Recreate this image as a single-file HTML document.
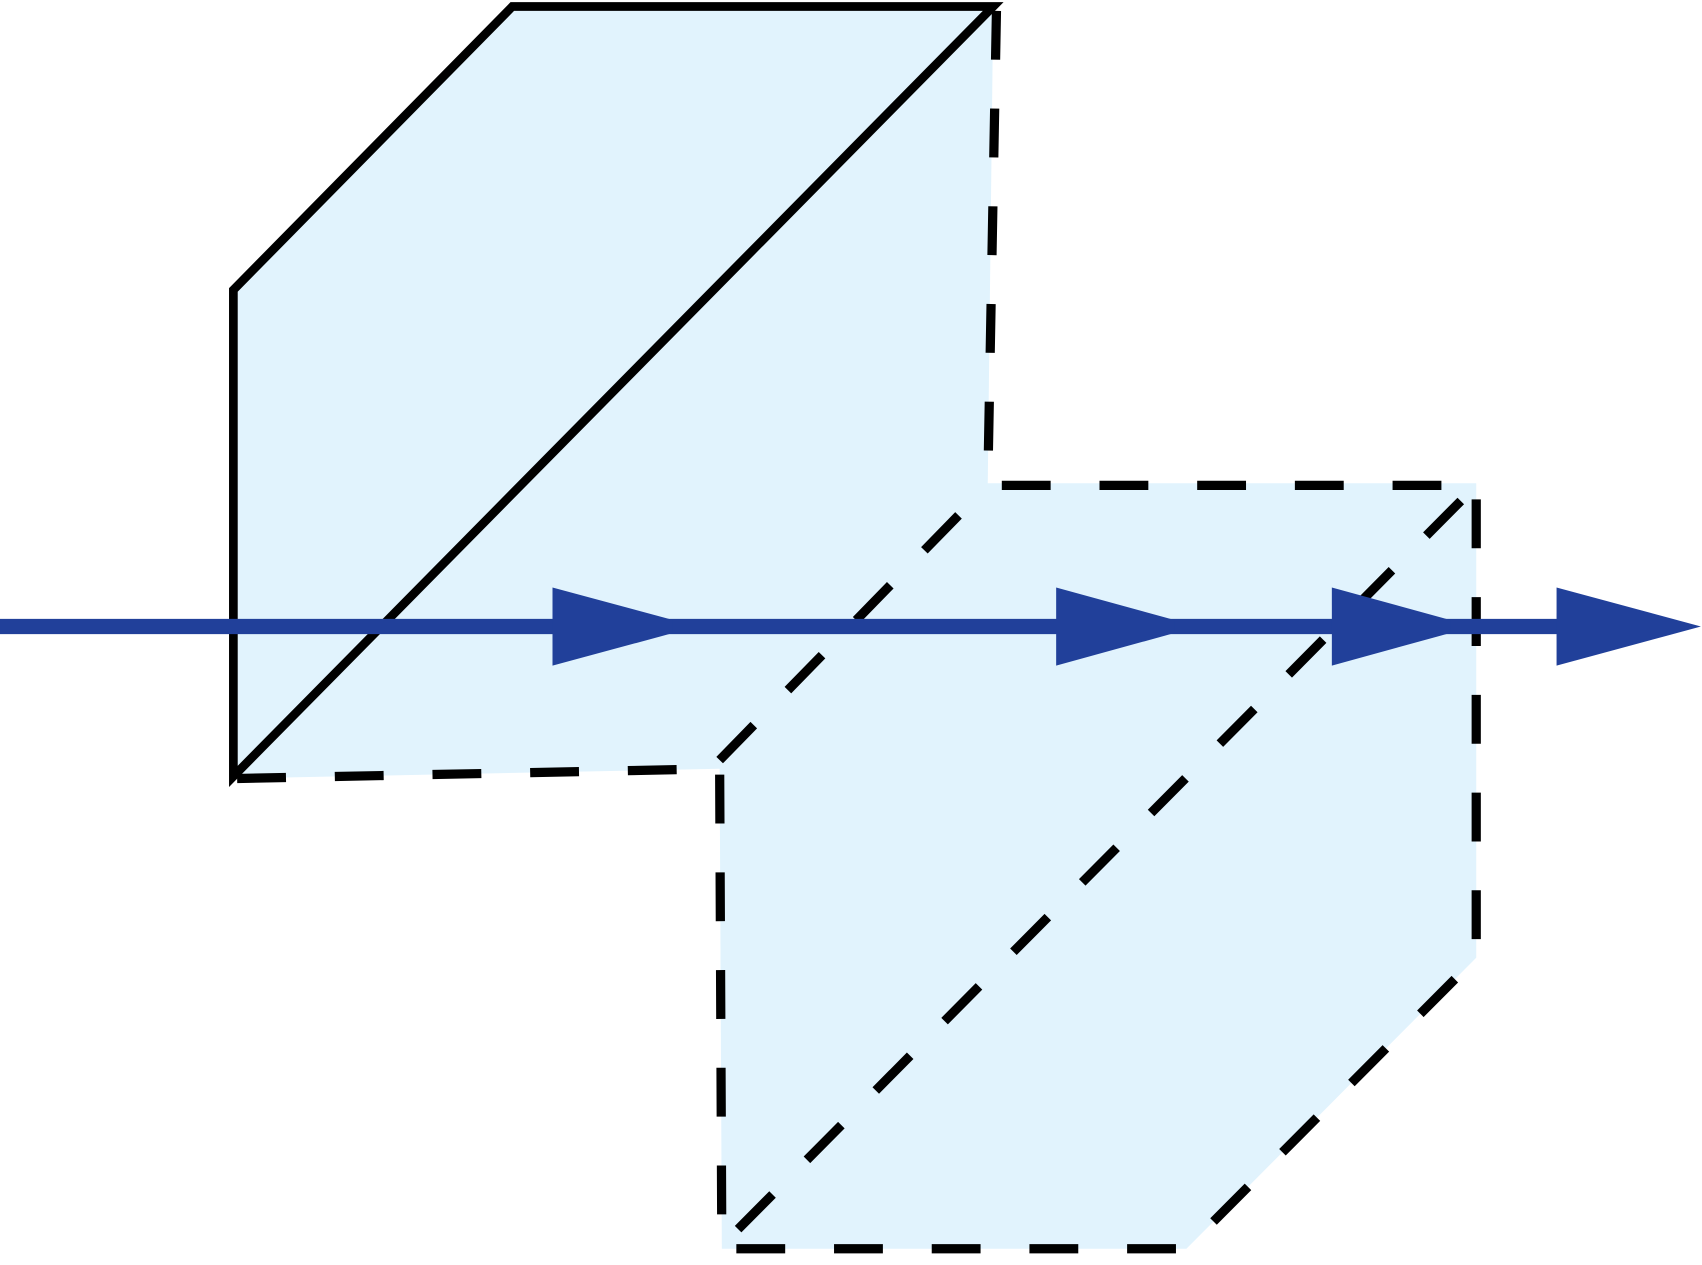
<!DOCTYPE html>
<html><head><style>html,body{margin:0;padding:0;background:#fff}svg{display:block}</style></head>
<body>
<svg width="1702" height="1265" viewBox="0 0 1568 1165" preserveAspectRatio="none" xmlns="http://www.w3.org/2000/svg">
<polygon points="215,267 472,6 915,6 910,445 1360,445 1360,882 1093,1150 665,1150 663,708 215,717" fill="#e1f3fd"/>
<g fill="none" stroke="#000" stroke-width="8.5" stroke-dasharray="45,45">
<polyline points="918,10 910,447 1360,447 1360,882 1093,1150 665,1150 663,708 215,717"/>
<line x1="663" y1="700" x2="910" y2="447"/>
<line x1="680" y1="1132" x2="1360" y2="447"/>
</g>
<polygon points="215,267 472,6 915,6 215,715" fill="none" stroke="#000" stroke-width="8" stroke-linejoin="miter"/>
<line x1="0" y1="577" x2="1440" y2="577" stroke="#21409a" stroke-width="14"/>
<g fill="#21409a">
<polygon points="509,541 509,613 620,583 620,571"/>
<polygon points="973,541 973,613 1082,583 1082,571"/>
<polygon points="1227,541 1227,613 1336,583 1336,571"/>
<polygon points="1434,541 1434,613 1567,577"/>
</g>
</svg>
</body></html>
